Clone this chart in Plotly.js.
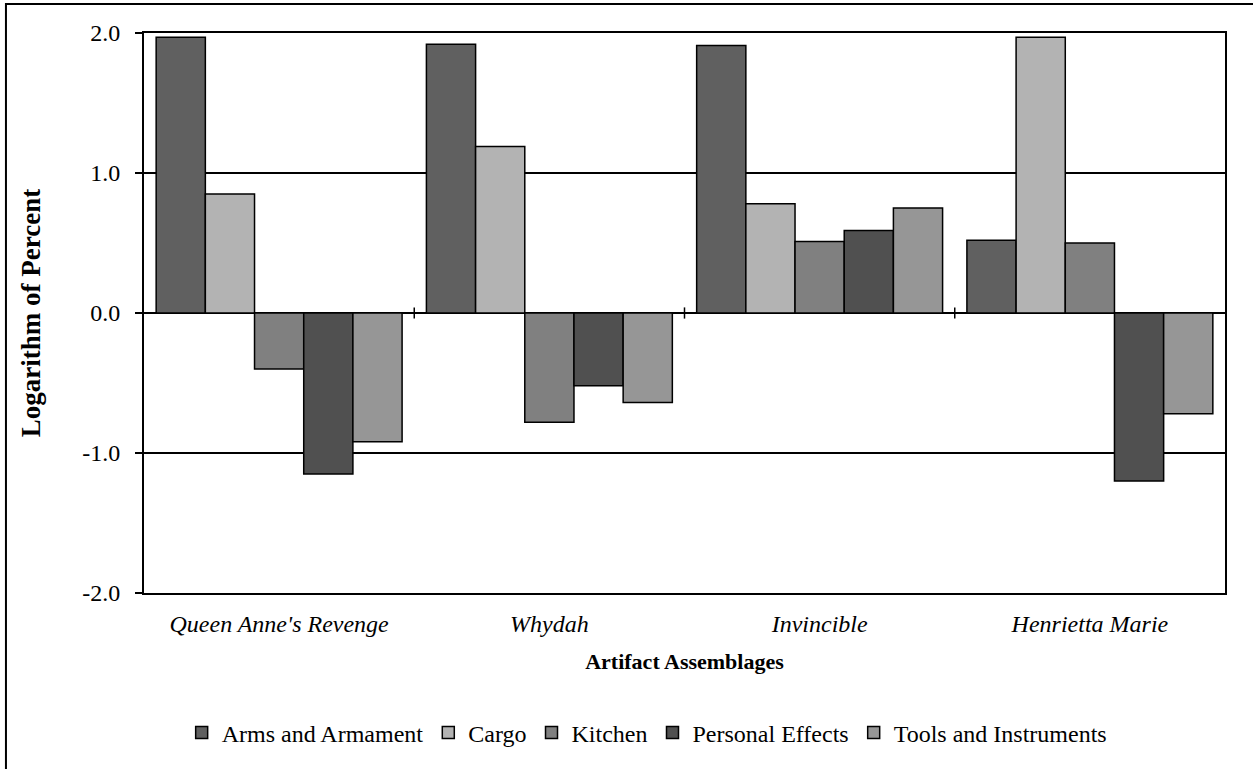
<!DOCTYPE html>
<html>
<head>
<meta charset="utf-8">
<script src="https://cdn.plot.ly/plotly-3.0.1.min.js"></script>
<style>
  html, body { margin: 0; padding: 0; background: #fff; }
  #chart { width: 1253px; height: 769px; }
</style>
</head>
<body>
<div id="chart"></div>
<script>
const categories = ["Queen Anne's Revenge", "Whydah", "Invincible", "Henrietta Marie"];
const seriesNames = ["Arms and Armament", "Cargo", "Kitchen", "Personal Effects", "Tools and Instruments"];
const armsAndArmament = [1.97, 1.92, 1.91, 0.52];
const cargo = [0.85, 1.19, 0.78, 1.97];
const kitchen = [-0.40, -0.78, 0.51, 0.50];
const personalEffects = [-1.15, -0.52, 0.59, -1.20];
const toolsAndInstruments = [-0.92, -0.64, 0.75, -0.72];
const yTickValues = [-2, -1, 0, 1, 2];
const yTickLabels = ["-2.0", "-1.0", "0.0", "1.0", "2.0"];

const seriesValues = [armsAndArmament, cargo, kitchen, personalEffects, toolsAndInstruments];
const seriesColors = ["#606060", "#b3b3b3", "#808080", "#505050", "#969696"];

const FONT = "Liberation Serif, Times New Roman, serif";

const traces = seriesNames.map((name, i) => ({
  type: 'bar',
  name: name,
  x: categories,
  y: seriesValues[i],
  marker: { color: seriesColors[i], line: { color: '#000', width: 1.5 } },
  hoverinfo: 'x+y+name'
}));

// tick marks crossing the zero line at category boundaries
const shapes = [];
for (let k = 0; k < categories.length - 1; k++) {
  shapes.push({
    type: 'line', xref: 'x', yref: 'y',
    x0: k + 0.5, x1: k + 0.5, y0: -0.04, y1: 0.04,
    line: { color: '#000', width: 1.5 }
  });
}
// outer chart border (extends past the right/bottom of the picture)
shapes.push({
  type: 'rect', xref: 'paper', yref: 'paper',
  x0: -0.1277, x1: 1.06, y0: -0.4, y1: 1.0518,
  line: { color: '#000', width: 2 }, fillcolor: 'rgba(0,0,0,0)', layer: 'below'
});

const layout = {
  width: 1253, height: 769,
  margin: { l: 144, r: 28, t: 33, b: 176 },
  paper_bgcolor: '#fff', plot_bgcolor: '#fff',
  font: { family: FONT, size: 24, color: '#000' },
  barmode: 'group',
  bargap: 0.09,
  bargroupgap: 0,
  showlegend: true,
  legend: {
    orientation: 'h', x: 0.465, xanchor: 'center', y: -0.25, yanchor: 'middle',
    font: { family: FONT, size: 24, color: '#000' },
    itemwidth: 30, traceorder: 'normal'
  },
  xaxis: {
    type: 'category',
    showline: true, linecolor: '#000', linewidth: 2, mirror: true,
    ticks: '', showgrid: false, zeroline: false,
    ticklabelstandoff: 8,
    tickfont: { family: FONT, size: 24, style: 'italic', color: '#000' },
    title: { text: 'Artifact Assemblages', font: { family: FONT, size: 22, weight: 'bold', color: '#000' }, standoff: 18 }
  },
  yaxis: {
    range: [-2, 2],
    tickvals: yTickValues, ticktext: yTickLabels,
    ticks: 'outside', ticklen: 7, tickwidth: 1.5, tickcolor: '#000',
    ticklabelstandoff: 10,
    showline: true, linecolor: '#000', linewidth: 2, mirror: true,
    showgrid: true, gridcolor: '#000', gridwidth: 1.5,
    zeroline: true, zerolinecolor: '#000', zerolinewidth: 2,
    tickfont: { family: FONT, size: 24, color: '#000' },
    title: { text: 'Logarithm of Percent', font: { family: FONT, size: 27, weight: 'bold', color: '#000' }, standoff: 34 }
  },
  shapes: shapes
};

Plotly.newPlot('chart', traces, layout, { displayModeBar: false, staticPlot: true });
</script>
</body>
</html>
